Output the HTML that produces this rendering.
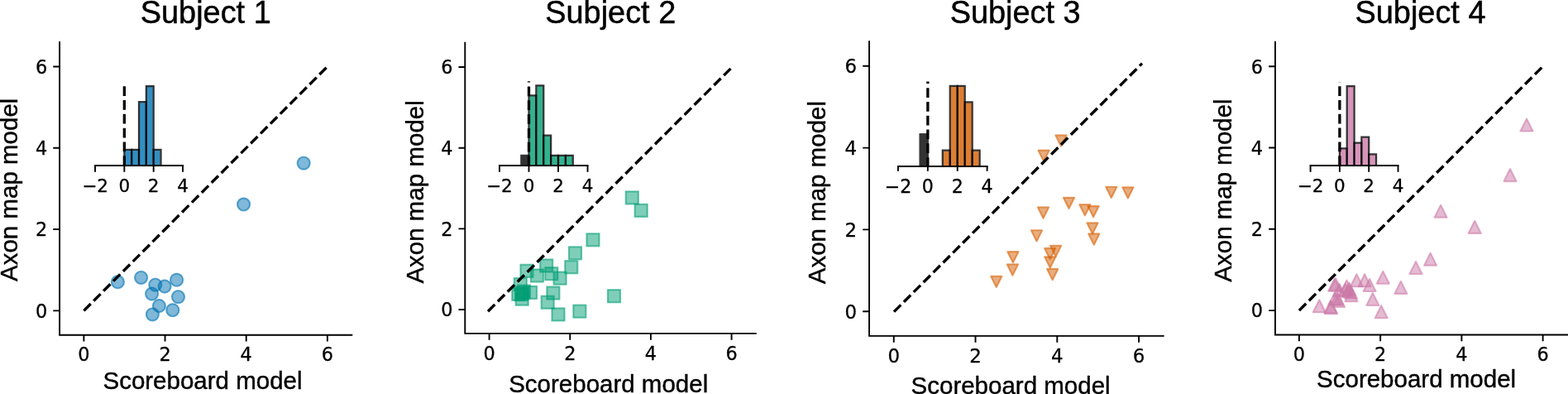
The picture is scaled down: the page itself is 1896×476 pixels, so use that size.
<!DOCTYPE html>
<html lang="en">
<head>
<meta charset="utf-8">
<title>Subjects: Scoreboard model vs Axon map model</title>
<style>
html,body{margin:0;padding:0;background:#fff;}
body{width:1896px;height:476px;overflow:hidden;}
svg{display:block;}
.a{font-family:"Liberation Sans",sans-serif;fill:#000;stroke:#000;stroke-width:.4px;stroke-linejoin:round;}
.t{stroke-width:.5px;}
.d{font-family:"DejaVu Sans",sans-serif;fill:#000;stroke:#000;stroke-width:.3px;stroke-linejoin:round;}
</style>
</head>
<body>
<svg width="1896" height="476" viewBox="0 0 1896 476">
<rect width="1896" height="476" fill="#fff"/>
<g>
<text class="a t" x="169.78" y="27.5" font-size="37.9">Subject 1</text>
<text class="a" x="124.46" y="470.25" font-size="29.5">Scoreboard model</text>
<text class="a" transform="translate(21.1 340) rotate(-90)" font-size="29.5">Axon map model</text>
<circle cx="142.4" cy="340.7" r="7.92" fill="#0072B2" fill-opacity=".5"/><circle cx="142.4" cy="340.7" r="7.57" fill="none" stroke="#0072B2" stroke-opacity=".5" stroke-width="2.18" stroke-linejoin="round"/>
<circle cx="170.6" cy="335.3" r="7.92" fill="#0072B2" fill-opacity=".5"/><circle cx="170.6" cy="335.3" r="7.57" fill="none" stroke="#0072B2" stroke-opacity=".5" stroke-width="2.18" stroke-linejoin="round"/>
<circle cx="187.8" cy="344.1" r="7.92" fill="#0072B2" fill-opacity=".5"/><circle cx="187.8" cy="344.1" r="7.57" fill="none" stroke="#0072B2" stroke-opacity=".5" stroke-width="2.18" stroke-linejoin="round"/>
<circle cx="199.1" cy="346" r="7.92" fill="#0072B2" fill-opacity=".5"/><circle cx="199.1" cy="346" r="7.57" fill="none" stroke="#0072B2" stroke-opacity=".5" stroke-width="2.18" stroke-linejoin="round"/>
<circle cx="213.6" cy="338.2" r="7.92" fill="#0072B2" fill-opacity=".5"/><circle cx="213.6" cy="338.2" r="7.57" fill="none" stroke="#0072B2" stroke-opacity=".5" stroke-width="2.18" stroke-linejoin="round"/>
<circle cx="183.6" cy="355" r="7.92" fill="#0072B2" fill-opacity=".5"/><circle cx="183.6" cy="355" r="7.57" fill="none" stroke="#0072B2" stroke-opacity=".5" stroke-width="2.18" stroke-linejoin="round"/>
<circle cx="215.5" cy="358.6" r="7.92" fill="#0072B2" fill-opacity=".5"/><circle cx="215.5" cy="358.6" r="7.57" fill="none" stroke="#0072B2" stroke-opacity=".5" stroke-width="2.18" stroke-linejoin="round"/>
<circle cx="192.4" cy="369.5" r="7.92" fill="#0072B2" fill-opacity=".5"/><circle cx="192.4" cy="369.5" r="7.57" fill="none" stroke="#0072B2" stroke-opacity=".5" stroke-width="2.18" stroke-linejoin="round"/>
<circle cx="208.8" cy="374.7" r="7.92" fill="#0072B2" fill-opacity=".5"/><circle cx="208.8" cy="374.7" r="7.57" fill="none" stroke="#0072B2" stroke-opacity=".5" stroke-width="2.18" stroke-linejoin="round"/>
<circle cx="184.4" cy="379.8" r="7.92" fill="#0072B2" fill-opacity=".5"/><circle cx="184.4" cy="379.8" r="7.57" fill="none" stroke="#0072B2" stroke-opacity=".5" stroke-width="2.18" stroke-linejoin="round"/>
<circle cx="367.2" cy="197.1" r="7.92" fill="#0072B2" fill-opacity=".5"/><circle cx="367.2" cy="197.1" r="7.57" fill="none" stroke="#0072B2" stroke-opacity=".5" stroke-width="2.18" stroke-linejoin="round"/>
<circle cx="294.6" cy="246.9" r="7.92" fill="#0072B2" fill-opacity=".5"/><circle cx="294.6" cy="246.9" r="7.57" fill="none" stroke="#0072B2" stroke-opacity=".5" stroke-width="2.18" stroke-linejoin="round"/>
<path d="M101.38 375.33L395.89 80.49" stroke="#000" stroke-width="3.4" stroke-dasharray="11.75 5.05" fill="none"/>
<path d="M72.05 51.01V404.82H425.34" stroke="#000" stroke-width="1.9" fill="none" stroke-linecap="square"/>
<text class="d" x="101.38" y="436.02" font-size="22.4" text-anchor="middle">0</text>
<text class="d" x="57.15" y="383.73" font-size="22.4" text-anchor="end">0</text>
<text class="d" x="199.55" y="436.02" font-size="22.4" text-anchor="middle">2</text>
<text class="d" x="57.15" y="285.45" font-size="22.4" text-anchor="end">2</text>
<text class="d" x="297.72" y="436.02" font-size="22.4" text-anchor="middle">4</text>
<text class="d" x="57.15" y="187.17" font-size="22.4" text-anchor="end">4</text>
<text class="d" x="395.89" y="436.02" font-size="22.4" text-anchor="middle">6</text>
<text class="d" x="57.15" y="88.89" font-size="22.4" text-anchor="end">6</text>
<path d="M101.38 404.82v7.8M72.05 375.33h-7.8M199.55 404.82v7.8M72.05 277.05h-7.8M297.72 404.82v7.8M72.05 178.77h-7.8M395.89 404.82v7.8M72.05 80.49h-7.8" stroke="#000" stroke-width="1.9" fill="none"/>
<rect x="151.17" y="181.63" width="7.18" height="18.37" fill="#0072B2" fill-opacity=".8"/>
<path d="M150.35 200V180.81H159.18V200" fill="none" stroke="#000" stroke-opacity=".8" stroke-width="2.25" stroke-linejoin="miter"/>
<rect x="160.01" y="181.63" width="7.18" height="18.37" fill="#0072B2" fill-opacity=".8"/>
<path d="M159.18 200V180.81H168.02V200" fill="none" stroke="#000" stroke-opacity=".8" stroke-width="2.25" stroke-linejoin="miter"/>
<rect x="168.84" y="124.06" width="7.18" height="75.94" fill="#0072B2" fill-opacity=".8"/>
<path d="M168.02 200V123.24H176.85V200" fill="none" stroke="#000" stroke-opacity=".8" stroke-width="2.25" stroke-linejoin="miter"/>
<rect x="177.68" y="104.88" width="7.18" height="95.12" fill="#0072B2" fill-opacity=".8"/>
<path d="M176.85 200V104.05H185.68V200" fill="none" stroke="#000" stroke-opacity=".8" stroke-width="2.25" stroke-linejoin="miter"/>
<rect x="186.51" y="181.63" width="7.18" height="18.37" fill="#0072B2" fill-opacity=".8"/>
<path d="M185.68 200V180.81H194.52V200" fill="none" stroke="#000" stroke-opacity=".8" stroke-width="2.25" stroke-linejoin="miter"/>
<path d="M150.35 200V99.27" stroke="#000" stroke-width="3.3" stroke-dasharray="11.75 5.05" fill="none"/>
<path d="M115.02 200H221.02" stroke="#000" stroke-width="1.9" fill="none" stroke-linecap="square"/>
<text class="d" x="115.02" y="232.4" font-size="21.5" text-anchor="middle">−2</text>
<text class="d" x="150.35" y="232.4" font-size="21.5" text-anchor="middle">0</text>
<text class="d" x="185.68" y="232.4" font-size="21.5" text-anchor="middle">2</text>
<text class="d" x="221.02" y="232.4" font-size="21.5" text-anchor="middle">4</text>
<path d="M115.02 200v7.8M150.35 200v7.8M185.68 200v7.8M221.02 200v7.8" stroke="#000" stroke-width="1.9" fill="none"/>
</g>
<g>
<text class="a t" x="659.28" y="27.5" font-size="37.9">Subject 2</text>
<text class="a" x="615.16" y="473.85" font-size="29.5">Scoreboard model</text>
<text class="a" transform="translate(511.9 342.6) rotate(-90)" font-size="29.5">Axon map model</text>
<rect x="629.12" y="319.42" width="15.76" height="15.76" fill="#009E73" fill-opacity=".5"/><rect x="629.47" y="319.77" width="15.06" height="15.06" fill="none" stroke="#009E73" stroke-opacity=".5" stroke-width="2.18" stroke-linejoin="miter"/>
<rect x="652.82" y="313.12" width="15.76" height="15.76" fill="#009E73" fill-opacity=".5"/><rect x="653.17" y="313.47" width="15.06" height="15.06" fill="none" stroke="#009E73" stroke-opacity=".5" stroke-width="2.18" stroke-linejoin="miter"/>
<rect x="641.52" y="325.12" width="15.76" height="15.76" fill="#009E73" fill-opacity=".5"/><rect x="641.87" y="325.47" width="15.06" height="15.06" fill="none" stroke="#009E73" stroke-opacity=".5" stroke-width="2.18" stroke-linejoin="miter"/>
<rect x="658.92" y="322.82" width="15.76" height="15.76" fill="#009E73" fill-opacity=".5"/><rect x="659.27" y="323.17" width="15.06" height="15.06" fill="none" stroke="#009E73" stroke-opacity=".5" stroke-width="2.18" stroke-linejoin="miter"/>
<rect x="669.22" y="328.22" width="15.76" height="15.76" fill="#009E73" fill-opacity=".5"/><rect x="669.57" y="328.57" width="15.06" height="15.06" fill="none" stroke="#009E73" stroke-opacity=".5" stroke-width="2.18" stroke-linejoin="miter"/>
<rect x="682.92" y="314.82" width="15.76" height="15.76" fill="#009E73" fill-opacity=".5"/><rect x="683.27" y="315.17" width="15.06" height="15.06" fill="none" stroke="#009E73" stroke-opacity=".5" stroke-width="2.18" stroke-linejoin="miter"/>
<rect x="687.62" y="297.92" width="15.76" height="15.76" fill="#009E73" fill-opacity=".5"/><rect x="687.97" y="298.27" width="15.06" height="15.06" fill="none" stroke="#009E73" stroke-opacity=".5" stroke-width="2.18" stroke-linejoin="miter"/>
<rect x="621.42" y="335.72" width="15.76" height="15.76" fill="#009E73" fill-opacity=".5"/><rect x="621.77" y="336.07" width="15.06" height="15.06" fill="none" stroke="#009E73" stroke-opacity=".5" stroke-width="2.18" stroke-linejoin="miter"/>
<rect x="618.92" y="347.42" width="15.76" height="15.76" fill="#009E73" fill-opacity=".5"/><rect x="619.27" y="347.77" width="15.06" height="15.06" fill="none" stroke="#009E73" stroke-opacity=".5" stroke-width="2.18" stroke-linejoin="miter"/>
<rect x="633.62" y="345.52" width="15.76" height="15.76" fill="#009E73" fill-opacity=".5"/><rect x="633.97" y="345.87" width="15.06" height="15.06" fill="none" stroke="#009E73" stroke-opacity=".5" stroke-width="2.18" stroke-linejoin="miter"/>
<rect x="623.32" y="353.32" width="15.76" height="15.76" fill="#009E73" fill-opacity=".5"/><rect x="623.67" y="353.67" width="15.06" height="15.06" fill="none" stroke="#009E73" stroke-opacity=".5" stroke-width="2.18" stroke-linejoin="miter"/>
<rect x="624.22" y="345.92" width="15.76" height="15.76" fill="#009E73" fill-opacity=".5"/><rect x="624.57" y="346.27" width="15.06" height="15.06" fill="none" stroke="#009E73" stroke-opacity=".5" stroke-width="2.18" stroke-linejoin="miter"/>
<rect x="625.62" y="344.12" width="15.76" height="15.76" fill="#009E73" fill-opacity=".5"/><rect x="625.97" y="344.47" width="15.06" height="15.06" fill="none" stroke="#009E73" stroke-opacity=".5" stroke-width="2.18" stroke-linejoin="miter"/>
<rect x="622.62" y="347.62" width="15.76" height="15.76" fill="#009E73" fill-opacity=".5"/><rect x="622.97" y="347.97" width="15.06" height="15.06" fill="none" stroke="#009E73" stroke-opacity=".5" stroke-width="2.18" stroke-linejoin="miter"/>
<rect x="661.02" y="346.12" width="15.76" height="15.76" fill="#009E73" fill-opacity=".5"/><rect x="661.37" y="346.47" width="15.06" height="15.06" fill="none" stroke="#009E73" stroke-opacity=".5" stroke-width="2.18" stroke-linejoin="miter"/>
<rect x="654.32" y="357.32" width="15.76" height="15.76" fill="#009E73" fill-opacity=".5"/><rect x="654.67" y="357.67" width="15.06" height="15.06" fill="none" stroke="#009E73" stroke-opacity=".5" stroke-width="2.18" stroke-linejoin="miter"/>
<rect x="667.12" y="372.02" width="15.76" height="15.76" fill="#009E73" fill-opacity=".5"/><rect x="667.47" y="372.37" width="15.06" height="15.06" fill="none" stroke="#009E73" stroke-opacity=".5" stroke-width="2.18" stroke-linejoin="miter"/>
<rect x="693.02" y="368.22" width="15.76" height="15.76" fill="#009E73" fill-opacity=".5"/><rect x="693.37" y="368.57" width="15.06" height="15.06" fill="none" stroke="#009E73" stroke-opacity=".5" stroke-width="2.18" stroke-linejoin="miter"/>
<rect x="756.42" y="231.02" width="15.76" height="15.76" fill="#009E73" fill-opacity=".5"/><rect x="756.77" y="231.37" width="15.06" height="15.06" fill="none" stroke="#009E73" stroke-opacity=".5" stroke-width="2.18" stroke-linejoin="miter"/>
<rect x="767.32" y="246.42" width="15.76" height="15.76" fill="#009E73" fill-opacity=".5"/><rect x="767.67" y="246.77" width="15.06" height="15.06" fill="none" stroke="#009E73" stroke-opacity=".5" stroke-width="2.18" stroke-linejoin="miter"/>
<rect x="709.12" y="281.92" width="15.76" height="15.76" fill="#009E73" fill-opacity=".5"/><rect x="709.47" y="282.27" width="15.06" height="15.06" fill="none" stroke="#009E73" stroke-opacity=".5" stroke-width="2.18" stroke-linejoin="miter"/>
<rect x="734.62" y="349.82" width="15.76" height="15.76" fill="#009E73" fill-opacity=".5"/><rect x="734.97" y="350.17" width="15.06" height="15.06" fill="none" stroke="#009E73" stroke-opacity=".5" stroke-width="2.18" stroke-linejoin="miter"/>
<path d="M590.05 376.2L884.35 82.05" stroke="#000" stroke-width="3.4" stroke-dasharray="11.75 5.05" fill="none"/>
<path d="M562.3 51.72V402.9H913.88" stroke="#000" stroke-width="1.9" fill="none" stroke-linecap="square"/>
<text class="d" x="591.6" y="434.9" font-size="22.4" text-anchor="middle">0</text>
<text class="d" x="547.4" y="382.4" font-size="22.4" text-anchor="end">0</text>
<text class="d" x="689.26" y="434.9" font-size="22.4" text-anchor="middle">2</text>
<text class="d" x="547.4" y="284.74" font-size="22.4" text-anchor="end">2</text>
<text class="d" x="786.92" y="434.9" font-size="22.4" text-anchor="middle">4</text>
<text class="d" x="547.4" y="187.08" font-size="22.4" text-anchor="end">4</text>
<text class="d" x="884.58" y="434.9" font-size="22.4" text-anchor="middle">6</text>
<text class="d" x="547.4" y="89.42" font-size="22.4" text-anchor="end">6</text>
<path d="M591.6 402.9v7.8M562.3 374h-7.8M689.26 402.9v7.8M562.3 276.34h-7.8M786.92 402.9v7.8M562.3 178.68h-7.8M884.58 402.9v7.8M562.3 81.02h-7.8" stroke="#000" stroke-width="1.9" fill="none"/>
<rect x="629.19" y="186.75" width="11.43" height="13.21" fill="#000" fill-opacity=".8"/>
<rect x="640.33" y="116.17" width="7.23" height="83.8" fill="#009E73" fill-opacity=".8"/>
<path d="M639.5 199.97V115.34H648.38V199.97" fill="none" stroke="#000" stroke-opacity=".8" stroke-width="2.25" stroke-linejoin="miter"/>
<rect x="649.21" y="104.08" width="7.23" height="95.89" fill="#009E73" fill-opacity=".8"/>
<path d="M648.38 199.97V103.25H657.26V199.97" fill="none" stroke="#000" stroke-opacity=".8" stroke-width="2.25" stroke-linejoin="miter"/>
<rect x="658.09" y="164.52" width="7.23" height="35.44" fill="#009E73" fill-opacity=".8"/>
<path d="M657.26 199.97V163.7H666.14V199.97" fill="none" stroke="#000" stroke-opacity=".8" stroke-width="2.25" stroke-linejoin="miter"/>
<rect x="666.97" y="188.7" width="7.23" height="11.27" fill="#009E73" fill-opacity=".8"/>
<path d="M666.14 199.97V187.88H675.03V199.97" fill="none" stroke="#000" stroke-opacity=".8" stroke-width="2.25" stroke-linejoin="miter"/>
<rect x="675.85" y="188.7" width="7.23" height="11.27" fill="#009E73" fill-opacity=".8"/>
<path d="M675.03 199.97V187.88H683.91V199.97" fill="none" stroke="#000" stroke-opacity=".8" stroke-width="2.25" stroke-linejoin="miter"/>
<rect x="684.73" y="188.7" width="7.23" height="11.27" fill="#009E73" fill-opacity=".8"/>
<path d="M683.91 199.97V187.88H692.79V199.97" fill="none" stroke="#000" stroke-opacity=".8" stroke-width="2.25" stroke-linejoin="miter"/>
<path d="M639.5 200.25V98.2" stroke="#000" stroke-width="3.3" stroke-dasharray="11.75 5.05" fill="none"/>
<path d="M603.97 199.97H710.55" stroke="#000" stroke-width="1.9" fill="none" stroke-linecap="square"/>
<text class="d" x="603.97" y="232.37" font-size="21.5" text-anchor="middle">−2</text>
<text class="d" x="639.5" y="232.37" font-size="21.5" text-anchor="middle">0</text>
<text class="d" x="675.03" y="232.37" font-size="21.5" text-anchor="middle">2</text>
<text class="d" x="710.55" y="232.37" font-size="21.5" text-anchor="middle">4</text>
<path d="M603.97 199.97v7.8M639.5 199.97v7.8M675.03 199.97v7.8M710.55 199.97v7.8" stroke="#000" stroke-width="1.9" fill="none"/>
</g>
<g>
<text class="a t" x="1148.68" y="27.6" font-size="37.9">Subject 3</text>
<text class="a" x="1101.56" y="475.95" font-size="29.5">Scoreboard model</text>
<text class="a" transform="translate(997.9 343.3) rotate(-90)" font-size="29.5">Axon map model</text>
<g opacity=".5"><path d="M1218.29 304.14L1231.51 304.14L1224.9 317.36Z" fill="#D55E00" stroke="#D55E00" stroke-width="0.7" stroke-linejoin="round"/></g><path d="M1218.29 304.14L1231.51 304.14L1224.9 317.36Z" fill="none" stroke="#D55E00" stroke-opacity=".5" stroke-width="2.18" stroke-linejoin="round"/>
<g opacity=".5"><path d="M1217.79 319.44L1231.01 319.44L1224.4 332.66Z" fill="#D55E00" stroke="#D55E00" stroke-width="0.7" stroke-linejoin="round"/></g><path d="M1217.79 319.44L1231.01 319.44L1224.4 332.66Z" fill="none" stroke="#D55E00" stroke-opacity=".5" stroke-width="2.18" stroke-linejoin="round"/>
<g opacity=".5"><path d="M1198.19 333.74L1211.41 333.74L1204.8 346.96Z" fill="#D55E00" stroke="#D55E00" stroke-width="0.7" stroke-linejoin="round"/></g><path d="M1198.19 333.74L1211.41 333.74L1204.8 346.96Z" fill="none" stroke="#D55E00" stroke-opacity=".5" stroke-width="2.18" stroke-linejoin="round"/>
<g opacity=".5"><path d="M1246.89 278.24L1260.11 278.24L1253.5 291.46Z" fill="#D55E00" stroke="#D55E00" stroke-width="0.7" stroke-linejoin="round"/></g><path d="M1246.89 278.24L1260.11 278.24L1253.5 291.46Z" fill="none" stroke="#D55E00" stroke-opacity=".5" stroke-width="2.18" stroke-linejoin="round"/>
<g opacity=".5"><path d="M1269.99 296.74L1283.21 296.74L1276.6 309.96Z" fill="#D55E00" stroke="#D55E00" stroke-width="0.7" stroke-linejoin="round"/></g><path d="M1269.99 296.74L1283.21 296.74L1276.6 309.96Z" fill="none" stroke="#D55E00" stroke-opacity=".5" stroke-width="2.18" stroke-linejoin="round"/>
<g opacity=".5"><path d="M1263.09 299.94L1276.31 299.94L1269.7 313.16Z" fill="#D55E00" stroke="#D55E00" stroke-width="0.7" stroke-linejoin="round"/></g><path d="M1263.09 299.94L1276.31 299.94L1269.7 313.16Z" fill="none" stroke="#D55E00" stroke-opacity=".5" stroke-width="2.18" stroke-linejoin="round"/>
<g opacity=".5"><path d="M1263.19 310.34L1276.41 310.34L1269.8 323.56Z" fill="#D55E00" stroke="#D55E00" stroke-width="0.7" stroke-linejoin="round"/></g><path d="M1263.19 310.34L1276.41 310.34L1269.8 323.56Z" fill="none" stroke="#D55E00" stroke-opacity=".5" stroke-width="2.18" stroke-linejoin="round"/>
<g opacity=".5"><path d="M1266.09 324.94L1279.31 324.94L1272.7 338.16Z" fill="#D55E00" stroke="#D55E00" stroke-width="0.7" stroke-linejoin="round"/></g><path d="M1266.09 324.94L1279.31 324.94L1272.7 338.16Z" fill="none" stroke="#D55E00" stroke-opacity=".5" stroke-width="2.18" stroke-linejoin="round"/>
<g opacity=".5"><path d="M1314.39 269.34L1327.61 269.34L1321 282.56Z" fill="#D55E00" stroke="#D55E00" stroke-width="0.7" stroke-linejoin="round"/></g><path d="M1314.39 269.34L1327.61 269.34L1321 282.56Z" fill="none" stroke="#D55E00" stroke-opacity=".5" stroke-width="2.18" stroke-linejoin="round"/>
<g opacity=".5"><path d="M1316.19 282.44L1329.41 282.44L1322.8 295.66Z" fill="#D55E00" stroke="#D55E00" stroke-width="0.7" stroke-linejoin="round"/></g><path d="M1316.19 282.44L1329.41 282.44L1322.8 295.66Z" fill="none" stroke="#D55E00" stroke-opacity=".5" stroke-width="2.18" stroke-linejoin="round"/>
<g opacity=".5"><path d="M1276.39 163.44L1289.61 163.44L1283 176.66Z" fill="#D55E00" stroke="#D55E00" stroke-width="0.7" stroke-linejoin="round"/></g><path d="M1276.39 163.44L1289.61 163.44L1283 176.66Z" fill="none" stroke="#D55E00" stroke-opacity=".5" stroke-width="2.18" stroke-linejoin="round"/>
<g opacity=".5"><path d="M1255.49 181.64L1268.71 181.64L1262.1 194.86Z" fill="#D55E00" stroke="#D55E00" stroke-width="0.7" stroke-linejoin="round"/></g><path d="M1255.49 181.64L1268.71 181.64L1262.1 194.86Z" fill="none" stroke="#D55E00" stroke-opacity=".5" stroke-width="2.18" stroke-linejoin="round"/>
<g opacity=".5"><path d="M1337.19 225.74L1350.41 225.74L1343.8 238.96Z" fill="#D55E00" stroke="#D55E00" stroke-width="0.7" stroke-linejoin="round"/></g><path d="M1337.19 225.74L1350.41 225.74L1343.8 238.96Z" fill="none" stroke="#D55E00" stroke-opacity=".5" stroke-width="2.18" stroke-linejoin="round"/>
<g opacity=".5"><path d="M1357.29 226.34L1370.51 226.34L1363.9 239.56Z" fill="#D55E00" stroke="#D55E00" stroke-width="0.7" stroke-linejoin="round"/></g><path d="M1357.29 226.34L1370.51 226.34L1363.9 239.56Z" fill="none" stroke="#D55E00" stroke-opacity=".5" stroke-width="2.18" stroke-linejoin="round"/>
<g opacity=".5"><path d="M1285.89 238.84L1299.11 238.84L1292.5 252.06Z" fill="#D55E00" stroke="#D55E00" stroke-width="0.7" stroke-linejoin="round"/></g><path d="M1285.89 238.84L1299.11 238.84L1292.5 252.06Z" fill="none" stroke="#D55E00" stroke-opacity=".5" stroke-width="2.18" stroke-linejoin="round"/>
<g opacity=".5"><path d="M1254.89 250.44L1268.11 250.44L1261.5 263.66Z" fill="#D55E00" stroke="#D55E00" stroke-width="0.7" stroke-linejoin="round"/></g><path d="M1254.89 250.44L1268.11 250.44L1261.5 263.66Z" fill="none" stroke="#D55E00" stroke-opacity=".5" stroke-width="2.18" stroke-linejoin="round"/>
<g opacity=".5"><path d="M1305.29 247.14L1318.51 247.14L1311.9 260.36Z" fill="#D55E00" stroke="#D55E00" stroke-width="0.7" stroke-linejoin="round"/></g><path d="M1305.29 247.14L1318.51 247.14L1311.9 260.36Z" fill="none" stroke="#D55E00" stroke-opacity=".5" stroke-width="2.18" stroke-linejoin="round"/>
<g opacity=".5"><path d="M1315.49 249.04L1328.71 249.04L1322.1 262.26Z" fill="#D55E00" stroke="#D55E00" stroke-width="0.7" stroke-linejoin="round"/></g><path d="M1315.49 249.04L1328.71 249.04L1322.1 262.26Z" fill="none" stroke="#D55E00" stroke-opacity=".5" stroke-width="2.18" stroke-linejoin="round"/>
<path d="M1081 376.65L1381 76.65" stroke="#000" stroke-width="3.4" stroke-dasharray="11.75 5.05" fill="none"/>
<path d="M1051.05 50.16V405.85H1406.72" stroke="#000" stroke-width="1.9" fill="none" stroke-linecap="square"/>
<text class="d" x="1080.75" y="438.15" font-size="22.9" text-anchor="middle">0</text>
<text class="d" x="1036.15" y="384.6" font-size="22.9" text-anchor="end">0</text>
<text class="d" x="1179.53" y="438.15" font-size="22.9" text-anchor="middle">2</text>
<text class="d" x="1036.15" y="285.8" font-size="22.9" text-anchor="end">2</text>
<text class="d" x="1278.31" y="438.15" font-size="22.9" text-anchor="middle">4</text>
<text class="d" x="1036.15" y="187" font-size="22.9" text-anchor="end">4</text>
<text class="d" x="1377.09" y="438.15" font-size="22.9" text-anchor="middle">6</text>
<text class="d" x="1036.15" y="88.2" font-size="22.9" text-anchor="end">6</text>
<path d="M1080.75 405.85v7.8M1051.05 376.2h-7.8M1179.53 405.85v7.8M1051.05 277.4h-7.8M1278.31 405.85v7.8M1051.05 178.6h-7.8M1377.09 405.85v7.8M1051.05 79.8h-7.8" stroke="#000" stroke-width="1.9" fill="none"/>
<rect x="1111.46" y="161.06" width="11.52" height="39.98" fill="#000" fill-opacity=".8"/>
<rect x="1140.61" y="182.44" width="7.32" height="18.61" fill="#D55E00" fill-opacity=".8"/>
<path d="M1139.79 201.05V181.62H1148.76V201.05" fill="none" stroke="#000" stroke-opacity=".8" stroke-width="2.25" stroke-linejoin="miter"/>
<rect x="1149.58" y="104.73" width="7.32" height="96.33" fill="#D55E00" fill-opacity=".8"/>
<path d="M1148.76 201.05V103.9H1157.72V201.05" fill="none" stroke="#000" stroke-opacity=".8" stroke-width="2.25" stroke-linejoin="miter"/>
<rect x="1158.55" y="104.73" width="7.32" height="96.33" fill="#D55E00" fill-opacity=".8"/>
<path d="M1157.72 201.05V103.9H1166.69V201.05" fill="none" stroke="#000" stroke-opacity=".8" stroke-width="2.25" stroke-linejoin="miter"/>
<rect x="1167.52" y="124.16" width="7.32" height="76.89" fill="#D55E00" fill-opacity=".8"/>
<path d="M1166.69 201.05V123.33H1175.66V201.05" fill="none" stroke="#000" stroke-opacity=".8" stroke-width="2.25" stroke-linejoin="miter"/>
<rect x="1176.49" y="182.44" width="7.32" height="18.61" fill="#D55E00" fill-opacity=".8"/>
<path d="M1175.66 201.05V181.62H1184.63V201.05" fill="none" stroke="#000" stroke-opacity=".8" stroke-width="2.25" stroke-linejoin="miter"/>
<path d="M1121.85 201.9V98.47" stroke="#000" stroke-width="3.3" stroke-dasharray="11.75 5.05" fill="none"/>
<path d="M1085.98 201.05H1193.6" stroke="#000" stroke-width="1.9" fill="none" stroke-linecap="square"/>
<text class="d" x="1085.98" y="232.65" font-size="22.1" text-anchor="middle">−2</text>
<text class="d" x="1121.85" y="232.65" font-size="22.1" text-anchor="middle">0</text>
<text class="d" x="1157.72" y="232.65" font-size="22.1" text-anchor="middle">2</text>
<text class="d" x="1193.6" y="232.65" font-size="22.1" text-anchor="middle">4</text>
<path d="M1085.98 201.05v5.8M1121.85 201.05v5.8M1157.72 201.05v5.8M1193.6 201.05v5.8" stroke="#000" stroke-width="1.9" fill="none"/>
</g>
<g>
<text class="a t" x="1638.48" y="27.7" font-size="37.9">Subject 4</text>
<text class="a" x="1592.06" y="468.3" font-size="29.5">Scoreboard model</text>
<text class="a" transform="translate(1489 340.7) rotate(-90)" font-size="29.5">Axon map model</text>
<g opacity=".5"><path d="M1722.07 320.68L1737.13 320.68L1729.6 305.62Z" fill="#CC79A7" stroke="#CC79A7" stroke-width="0.7" stroke-linejoin="round"/></g><path d="M1722.07 320.68L1737.13 320.68L1729.6 305.62Z" fill="none" stroke="#CC79A7" stroke-opacity=".5" stroke-width="2.18" stroke-linejoin="round"/>
<g opacity=".5"><path d="M1704.47 330.98L1719.53 330.98L1712 315.92Z" fill="#CC79A7" stroke="#CC79A7" stroke-width="0.7" stroke-linejoin="round"/></g><path d="M1704.47 330.98L1719.53 330.98L1712 315.92Z" fill="none" stroke="#CC79A7" stroke-opacity=".5" stroke-width="2.18" stroke-linejoin="round"/>
<g opacity=".5"><path d="M1686.37 354.88L1701.43 354.88L1693.9 339.82Z" fill="#CC79A7" stroke="#CC79A7" stroke-width="0.7" stroke-linejoin="round"/></g><path d="M1686.37 354.88L1701.43 354.88L1693.9 339.82Z" fill="none" stroke="#CC79A7" stroke-opacity=".5" stroke-width="2.18" stroke-linejoin="round"/>
<g opacity=".5"><path d="M1664.77 342.78L1679.83 342.78L1672.3 327.72Z" fill="#CC79A7" stroke="#CC79A7" stroke-width="0.7" stroke-linejoin="round"/></g><path d="M1664.77 342.78L1679.83 342.78L1672.3 327.72Z" fill="none" stroke="#CC79A7" stroke-opacity=".5" stroke-width="2.18" stroke-linejoin="round"/>
<g opacity=".5"><path d="M1652.37 368.98L1667.43 368.98L1659.9 353.92Z" fill="#CC79A7" stroke="#CC79A7" stroke-width="0.7" stroke-linejoin="round"/></g><path d="M1652.37 368.98L1667.43 368.98L1659.9 353.92Z" fill="none" stroke="#CC79A7" stroke-opacity=".5" stroke-width="2.18" stroke-linejoin="round"/>
<g opacity=".5"><path d="M1662.67 384.28L1677.73 384.28L1670.2 369.22Z" fill="#CC79A7" stroke="#CC79A7" stroke-width="0.7" stroke-linejoin="round"/></g><path d="M1662.67 384.28L1677.73 384.28L1670.2 369.22Z" fill="none" stroke="#CC79A7" stroke-opacity=".5" stroke-width="2.18" stroke-linejoin="round"/>
<g opacity=".5"><path d="M1648.57 351.98L1663.63 351.98L1656.1 336.92Z" fill="#CC79A7" stroke="#CC79A7" stroke-width="0.7" stroke-linejoin="round"/></g><path d="M1648.57 351.98L1663.63 351.98L1656.1 336.92Z" fill="none" stroke="#CC79A7" stroke-opacity=".5" stroke-width="2.18" stroke-linejoin="round"/>
<g opacity=".5"><path d="M1642.57 346.28L1657.63 346.28L1650.1 331.22Z" fill="#CC79A7" stroke="#CC79A7" stroke-width="0.7" stroke-linejoin="round"/></g><path d="M1642.57 346.28L1657.63 346.28L1650.1 331.22Z" fill="none" stroke="#CC79A7" stroke-opacity=".5" stroke-width="2.18" stroke-linejoin="round"/>
<g opacity=".5"><path d="M1632.87 346.28L1647.93 346.28L1640.4 331.22Z" fill="#CC79A7" stroke="#CC79A7" stroke-width="0.7" stroke-linejoin="round"/></g><path d="M1632.87 346.28L1647.93 346.28L1640.4 331.22Z" fill="none" stroke="#CC79A7" stroke-opacity=".5" stroke-width="2.18" stroke-linejoin="round"/>
<g opacity=".5"><path d="M1587.77 377.28L1602.83 377.28L1595.3 362.22Z" fill="#CC79A7" stroke="#CC79A7" stroke-width="0.7" stroke-linejoin="round"/></g><path d="M1587.77 377.28L1602.83 377.28L1595.3 362.22Z" fill="none" stroke="#CC79A7" stroke-opacity=".5" stroke-width="2.18" stroke-linejoin="round"/>
<g opacity=".5"><path d="M1601.97 379.28L1617.03 379.28L1609.5 364.22Z" fill="#CC79A7" stroke="#CC79A7" stroke-width="0.7" stroke-linejoin="round"/></g><path d="M1601.97 379.28L1617.03 379.28L1609.5 364.22Z" fill="none" stroke="#CC79A7" stroke-opacity=".5" stroke-width="2.18" stroke-linejoin="round"/>
<g opacity=".5"><path d="M1601.47 378.18L1616.53 378.18L1609 363.12Z" fill="#CC79A7" stroke="#CC79A7" stroke-width="0.7" stroke-linejoin="round"/></g><path d="M1601.47 378.18L1616.53 378.18L1609 363.12Z" fill="none" stroke="#CC79A7" stroke-opacity=".5" stroke-width="2.18" stroke-linejoin="round"/>
<g opacity=".5"><path d="M1606.17 351.68L1621.23 351.68L1613.7 336.62Z" fill="#CC79A7" stroke="#CC79A7" stroke-width="0.7" stroke-linejoin="round"/></g><path d="M1606.17 351.68L1621.23 351.68L1613.7 336.62Z" fill="none" stroke="#CC79A7" stroke-opacity=".5" stroke-width="2.18" stroke-linejoin="round"/>
<g opacity=".5"><path d="M1607.57 351.18L1622.63 351.18L1615.1 336.12Z" fill="#CC79A7" stroke="#CC79A7" stroke-width="0.7" stroke-linejoin="round"/></g><path d="M1607.57 351.18L1622.63 351.18L1615.1 336.12Z" fill="none" stroke="#CC79A7" stroke-opacity=".5" stroke-width="2.18" stroke-linejoin="round"/>
<g opacity=".5"><path d="M1620.97 353.48L1636.03 353.48L1628.5 338.42Z" fill="#CC79A7" stroke="#CC79A7" stroke-width="0.7" stroke-linejoin="round"/></g><path d="M1620.97 353.48L1636.03 353.48L1628.5 338.42Z" fill="none" stroke="#CC79A7" stroke-opacity=".5" stroke-width="2.18" stroke-linejoin="round"/>
<g opacity=".5"><path d="M1619.07 357.68L1634.13 357.68L1626.6 342.62Z" fill="#CC79A7" stroke="#CC79A7" stroke-width="0.7" stroke-linejoin="round"/></g><path d="M1619.07 357.68L1634.13 357.68L1626.6 342.62Z" fill="none" stroke="#CC79A7" stroke-opacity=".5" stroke-width="2.18" stroke-linejoin="round"/>
<g opacity=".5"><path d="M1625.97 360.68L1641.03 360.68L1633.5 345.62Z" fill="#CC79A7" stroke="#CC79A7" stroke-width="0.7" stroke-linejoin="round"/></g><path d="M1625.97 360.68L1641.03 360.68L1633.5 345.62Z" fill="none" stroke="#CC79A7" stroke-opacity=".5" stroke-width="2.18" stroke-linejoin="round"/>
<g opacity=".5"><path d="M1626.37 364.18L1641.43 364.18L1633.9 349.12Z" fill="#CC79A7" stroke="#CC79A7" stroke-width="0.7" stroke-linejoin="round"/></g><path d="M1626.37 364.18L1641.43 364.18L1633.9 349.12Z" fill="none" stroke="#CC79A7" stroke-opacity=".5" stroke-width="2.18" stroke-linejoin="round"/>
<g opacity=".5"><path d="M1606.47 368.48L1621.53 368.48L1614 353.42Z" fill="#CC79A7" stroke="#CC79A7" stroke-width="0.7" stroke-linejoin="round"/></g><path d="M1606.47 368.48L1621.53 368.48L1614 353.42Z" fill="none" stroke="#CC79A7" stroke-opacity=".5" stroke-width="2.18" stroke-linejoin="round"/>
<g opacity=".5"><path d="M1609.27 368.48L1624.33 368.48L1616.8 353.42Z" fill="#CC79A7" stroke="#CC79A7" stroke-width="0.7" stroke-linejoin="round"/></g><path d="M1609.27 368.48L1624.33 368.48L1616.8 353.42Z" fill="none" stroke="#CC79A7" stroke-opacity=".5" stroke-width="2.18" stroke-linejoin="round"/>
<g opacity=".5"><path d="M1610.97 370.88L1626.03 370.88L1618.5 355.82Z" fill="#CC79A7" stroke="#CC79A7" stroke-width="0.7" stroke-linejoin="round"/></g><path d="M1610.97 370.88L1626.03 370.88L1618.5 355.82Z" fill="none" stroke="#CC79A7" stroke-opacity=".5" stroke-width="2.18" stroke-linejoin="round"/>
<g opacity=".5"><path d="M1622.47 359.18L1637.53 359.18L1630 344.12Z" fill="#CC79A7" stroke="#CC79A7" stroke-width="0.7" stroke-linejoin="round"/></g><path d="M1622.47 359.18L1637.53 359.18L1630 344.12Z" fill="none" stroke="#CC79A7" stroke-opacity=".5" stroke-width="2.18" stroke-linejoin="round"/>
<g opacity=".5"><path d="M1623.97 356.68L1639.03 356.68L1631.5 341.62Z" fill="#CC79A7" stroke="#CC79A7" stroke-width="0.7" stroke-linejoin="round"/></g><path d="M1623.97 356.68L1639.03 356.68L1631.5 341.62Z" fill="none" stroke="#CC79A7" stroke-opacity=".5" stroke-width="2.18" stroke-linejoin="round"/>
<g opacity=".5"><path d="M1611.97 357.88L1627.03 357.88L1619.5 342.82Z" fill="#CC79A7" stroke="#CC79A7" stroke-width="0.7" stroke-linejoin="round"/></g><path d="M1611.97 357.88L1627.03 357.88L1619.5 342.82Z" fill="none" stroke="#CC79A7" stroke-opacity=".5" stroke-width="2.18" stroke-linejoin="round"/>
<g opacity=".5"><path d="M1838.47 158.48L1853.53 158.48L1846 143.42Z" fill="#CC79A7" stroke="#CC79A7" stroke-width="0.7" stroke-linejoin="round"/></g><path d="M1838.47 158.48L1853.53 158.48L1846 143.42Z" fill="none" stroke="#CC79A7" stroke-opacity=".5" stroke-width="2.18" stroke-linejoin="round"/>
<g opacity=".5"><path d="M1818.47 219.08L1833.53 219.08L1826 204.02Z" fill="#CC79A7" stroke="#CC79A7" stroke-width="0.7" stroke-linejoin="round"/></g><path d="M1818.47 219.08L1833.53 219.08L1826 204.02Z" fill="none" stroke="#CC79A7" stroke-opacity=".5" stroke-width="2.18" stroke-linejoin="round"/>
<g opacity=".5"><path d="M1734.57 262.68L1749.63 262.68L1742.1 247.62Z" fill="#CC79A7" stroke="#CC79A7" stroke-width="0.7" stroke-linejoin="round"/></g><path d="M1734.57 262.68L1749.63 262.68L1742.1 247.62Z" fill="none" stroke="#CC79A7" stroke-opacity=".5" stroke-width="2.18" stroke-linejoin="round"/>
<g opacity=".5"><path d="M1775.67 281.88L1790.73 281.88L1783.2 266.82Z" fill="#CC79A7" stroke="#CC79A7" stroke-width="0.7" stroke-linejoin="round"/></g><path d="M1775.67 281.88L1790.73 281.88L1783.2 266.82Z" fill="none" stroke="#CC79A7" stroke-opacity=".5" stroke-width="2.18" stroke-linejoin="round"/>
<path d="M1570.9 375.08L1865.62 80.24" stroke="#000" stroke-width="3.4" stroke-dasharray="11.75 5.05" fill="none"/>
<path d="M1541.98 50.76V404.55H1895.09" stroke="#000" stroke-width="1.9" fill="none" stroke-linecap="square"/>
<text class="d" x="1570.9" y="435.95" font-size="22.4" text-anchor="middle">0</text>
<text class="d" x="1527.08" y="383.48" font-size="22.4" text-anchor="end">0</text>
<text class="d" x="1669.14" y="435.95" font-size="22.4" text-anchor="middle">2</text>
<text class="d" x="1527.08" y="285.2" font-size="22.4" text-anchor="end">2</text>
<text class="d" x="1767.38" y="435.95" font-size="22.4" text-anchor="middle">4</text>
<text class="d" x="1527.08" y="186.92" font-size="22.4" text-anchor="end">4</text>
<text class="d" x="1865.62" y="435.95" font-size="22.4" text-anchor="middle">6</text>
<text class="d" x="1527.08" y="88.64" font-size="22.4" text-anchor="end">6</text>
<path d="M1570.9 404.55v7.8M1541.98 375.08h-7.8M1669.14 404.55v7.8M1541.98 276.8h-7.8M1767.38 404.55v7.8M1541.98 178.52h-7.8M1865.62 404.55v7.8M1541.98 80.24h-7.8" stroke="#000" stroke-width="1.9" fill="none"/>
<rect x="1620.73" y="180.22" width="7.18" height="19.73" fill="#CC79A7" fill-opacity=".8"/>
<path d="M1619.9 199.95V179.4H1628.73V199.95" fill="none" stroke="#000" stroke-opacity=".8" stroke-width="2.25" stroke-linejoin="miter"/>
<rect x="1629.55" y="104.86" width="7.18" height="95.09" fill="#CC79A7" fill-opacity=".8"/>
<path d="M1628.73 199.95V104.04H1637.56V199.95" fill="none" stroke="#000" stroke-opacity=".8" stroke-width="2.25" stroke-linejoin="miter"/>
<rect x="1638.38" y="173.37" width="7.18" height="26.58" fill="#CC79A7" fill-opacity=".8"/>
<path d="M1637.56 199.95V172.55H1646.39V199.95" fill="none" stroke="#000" stroke-opacity=".8" stroke-width="2.25" stroke-linejoin="miter"/>
<rect x="1647.21" y="166.52" width="7.18" height="33.43" fill="#CC79A7" fill-opacity=".8"/>
<path d="M1646.39 199.95V165.69H1655.21V199.95" fill="none" stroke="#000" stroke-opacity=".8" stroke-width="2.25" stroke-linejoin="miter"/>
<rect x="1656.04" y="187.07" width="7.18" height="12.88" fill="#CC79A7" fill-opacity=".8"/>
<path d="M1655.21 199.95V186.25H1664.04V199.95" fill="none" stroke="#000" stroke-opacity=".8" stroke-width="2.25" stroke-linejoin="miter"/>
<path d="M1619.9 199.95V98.95" stroke="#000" stroke-width="3.3" stroke-dasharray="11.75 5.05" fill="none"/>
<path d="M1584.59 199.95H1690.53" stroke="#000" stroke-width="1.9" fill="none" stroke-linecap="square"/>
<text class="d" x="1584.59" y="232.35" font-size="21.5" text-anchor="middle">−2</text>
<text class="d" x="1619.9" y="232.35" font-size="21.5" text-anchor="middle">0</text>
<text class="d" x="1655.21" y="232.35" font-size="21.5" text-anchor="middle">2</text>
<text class="d" x="1690.53" y="232.35" font-size="21.5" text-anchor="middle">4</text>
<path d="M1584.59 199.95v7.8M1619.9 199.95v7.8M1655.21 199.95v7.8M1690.53 199.95v7.8" stroke="#000" stroke-width="1.9" fill="none"/>
</g>
</svg>
</body>
</html>
